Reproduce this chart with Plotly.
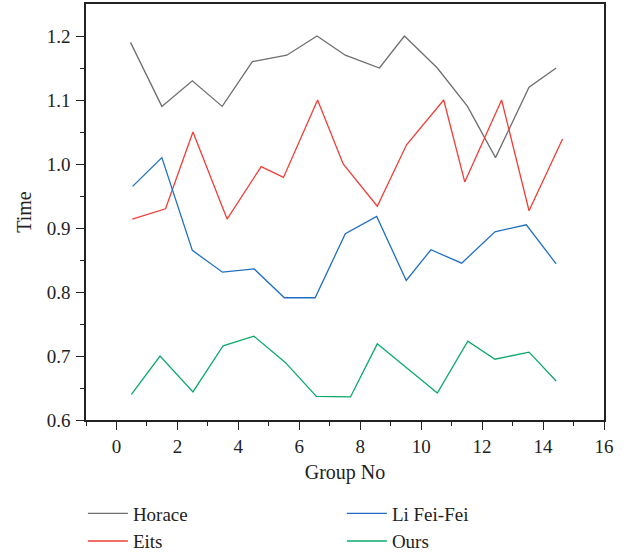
import plotly.graph_objects as go

horace_x = [0.46, 1.49, 2.49, 3.47, 4.46, 5.59, 6.58, 7.51, 8.63, 9.45, 10.53, 11.52, 12.44, 13.54, 14.43]
horace_y = [1.19, 1.09, 1.13, 1.09, 1.16, 1.17, 1.20, 1.17, 1.15, 1.20, 1.15, 1.09, 1.01, 1.12, 1.15]

eits_x = [0.52, 1.61, 2.51, 3.63, 4.75, 5.48, 6.60, 7.44, 8.56, 9.52, 10.74, 11.43, 12.64, 13.54, 14.64]
eits_y = [0.914, 0.930, 1.050, 0.914, 0.996, 0.979, 1.100, 1.000, 0.934, 1.030, 1.100, 0.972, 1.100, 0.927, 1.039]

li_x = [0.53, 1.49, 2.49, 3.48, 4.52, 5.51, 6.52, 7.51, 8.54, 9.51, 10.32, 11.33, 12.42, 13.45, 14.43]
li_y = [0.965, 1.010, 0.865, 0.831, 0.836, 0.791, 0.791, 0.891, 0.918, 0.818, 0.866, 0.845, 0.894, 0.905, 0.844]

ours_x = [0.49, 1.43, 2.51, 3.50, 4.51, 5.54, 6.56, 7.68, 8.56, 9.52, 10.53, 11.53, 12.42, 13.54, 14.43]
ours_y = [0.640, 0.700, 0.644, 0.716, 0.731, 0.690, 0.637, 0.636, 0.719, 0.681, 0.642, 0.723, 0.695, 0.706, 0.661]

FONT = "Liberation Serif"

fig = go.Figure()
fig.add_trace(go.Scatter(x=horace_x, y=horace_y, mode="lines", name="Horace", legend="legend",
                         line=dict(color="#6e6e6e", width=1.3)))
fig.add_trace(go.Scatter(x=eits_x, y=eits_y, mode="lines", name="Eits", legend="legend",
                         line=dict(color="#ef3e36", width=1.3)))
fig.add_trace(go.Scatter(x=li_x, y=li_y, mode="lines", name="Li Fei-Fei", legend="legend2",
                         line=dict(color="#1f6fc0", width=1.3)))
fig.add_trace(go.Scatter(x=ours_x, y=ours_y, mode="lines", name="Ours", legend="legend2",
                         line=dict(color="#0aa86a", width=1.3)))

axis_common = dict(showline=True, linecolor="#222", linewidth=1.5, mirror=True,
                   ticks="outside", ticklen=8, tickwidth=1.2, tickcolor="#222",
                   showgrid=False, zeroline=False, automargin=False,
                   tickfont=dict(family=FONT, size=19, color="#222"))

fig.update_xaxes(range=[-1, 16], tickmode="array", tickvals=list(range(0, 17, 2)),
                 minor=dict(tickmode="array", tickvals=list(range(-1, 17, 2)), ticks="outside",
                            ticklen=4, tickwidth=1.2, tickcolor="#222"),
                 title=dict(text="Group No", font=dict(family=FONT, size=20, color="#222"), standoff=9),
                 **axis_common)
fig.update_yaxes(range=[0.6, 1.25], tickmode="array", tickvals=[0.6, 0.7, 0.8, 0.9, 1.0, 1.1, 1.2],
                 ticktext=["0.6", "0.7", "0.8", "0.9", "1.0", "1.1", "1.2"],
                 minor=dict(tickmode="array", tickvals=[0.65, 0.75, 0.85, 0.95, 1.05, 1.15], ticks="outside",
                            ticklen=4, tickwidth=1.2, tickcolor="#222"),
                 title=dict(text="Time", font=dict(family=FONT, size=20, color="#222"), standoff=10),
                 ticklabelstandoff=2,
                 **axis_common)

legend_common = dict(orientation="v", xanchor="left", yanchor="top", itemwidth=40,
                     font=dict(family=FONT, size=19, color="#222"),
                     bgcolor="rgba(0,0,0,0)")

fig.update_layout(
    width=629, height=554,
    margin=dict(l=86, r=25, t=4, b=134, autoexpand=False),
    paper_bgcolor="white", plot_bgcolor="white",
    showlegend=True,
    legend=dict(x=-0.006, y=-0.179, **legend_common),
    legend2=dict(x=0.494, y=-0.179, **legend_common),
)

fig.write_html("out.html", config={"displayModeBar": False},
               post_script="document.body.style.margin='0';document.body.style.padding='0';")
